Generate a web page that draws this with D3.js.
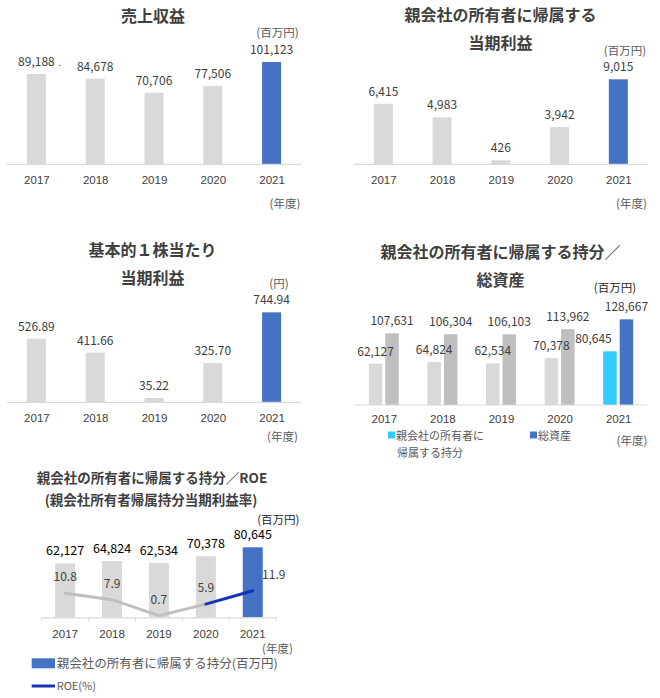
<!DOCTYPE html>
<html><head><meta charset="utf-8">
<script src="https://cdn.jsdelivr.net/npm/d3@7/dist/d3.min.js"></script>
<style>
html,body{margin:0;padding:0;background:#fff;}
svg{display:block;font-family:"Noto Sans CJK JP","Noto Sans",sans-serif;}
</style></head>
<body>
<svg id="c" width="660" height="698"></svg>
<script>
const years = ["2017","2018","2019","2020","2021"];
const revenue = [89188, 84678, 70706, 77506, 101123];
const netIncome = [6415, 4983, 426, 3942, 9015];
const eps = [526.89, 411.66, 35.22, 325.70, 744.94];
const equity = [62127, 64824, 62534, 70378, 80645];
const totalAssets = [107631, 106304, 106103, 113962, 128667];
const roe = [10.8, 7.9, 0.7, 5.9, 11.9];

const fmtInt = d3.format(",");
const fmt2 = d3.format(".2f");
const fmt1 = d3.format(".1f");

const GRAY = "#d9d9d9", GRAY2 = "#bfbfbf", BLUE = "#4472c4", CYAN = "#33ccff", LINEBLUE = "#1434b4";
const TXT = "#404040", TXT2 = "#595959";

const svg = d3.select("#c");

function text(g, x, y, s, opt = {}) {
  return g.append("text").attr("x", x).attr("y", y).text(s)
    .attr("text-anchor", opt.anchor || "middle")
    .attr("font-size", opt.size || 12)
    .attr("font-weight", opt.weight || "normal")
    .attr("fill", opt.fill || TXT);
}

function simpleBars(cfg) {
  const g = svg.append("g");
  const x = d3.scalePoint().domain(years).range(cfg.xr).padding(0.5);
  const y = d3.scaleLinear().domain(cfg.yd).range([cfg.base, cfg.base - cfg.h]);
  cfg.titles.forEach((t, i) => text(g, cfg.tx, cfg.ty[i], t, {size: 16, weight: "bold", fill: TXT}));
  g.selectAll("rect.bar").data(cfg.values).join("rect")
    .attr("x", (d, i) => x(years[i]) - 9.5).attr("width", 19)
    .attr("y", d => y(d)).attr("height", d => cfg.base - y(d))
    .attr("fill", (d, i) => i === years.length - 1 ? BLUE : GRAY);
  g.append("line").attr("x1", cfg.xr[0]).attr("x2", cfg.xr[1])
    .attr("y1", cfg.base).attr("y2", cfg.base).attr("stroke", GRAY).attr("stroke-width", 1.2);
  g.selectAll("text.val").data(cfg.values).join("text")
    .attr("x", (d, i) => x(years[i])).attr("y", d => y(d) - 8)
    .attr("text-anchor", "middle").attr("font-size", 12).attr("fill", TXT)
    .text(cfg.fmt);
  const ax = g.append("g").attr("transform", `translate(0,${cfg.base})`)
    .call(d3.axisBottom(x).tickSize(0).tickPadding(cfg.yearPad));
  ax.select(".domain").remove();
  ax.selectAll("text").attr("font-size", 11.5).attr("fill", TXT).attr("font-family", null);
  text(g, cfg.unit[0], cfg.unit[1], cfg.unit[2], {size: 11.5, fill: TXT2});
  text(g, cfg.nendo[0], cfg.nendo[1], "(年度)", {size: 11.5, fill: TXT2});
  return {g, x, y};
}

// Chart 1
const c1 = simpleBars({xr: [7, 301], base: 164.3, yd: [0, 100000], h: 101.2, values: revenue, fmt: fmtInt,
  titles: ["売上収益"], tx: 153, ty: [22], yearPad: 12, unit: [277.5, 36.5, "(百万円)"], nendo: [285, 207.5]});
text(c1.g, 59.5, 66, ".", {size: 9, fill: TXT});

// Chart 2
simpleBars({xr: [354, 647.7], base: 164.3, yd: [0, 10000], h: 94.3, values: netIncome, fmt: fmtInt,
  titles: ["親会社の所有者に帰属する", "当期利益"], tx: 500.5, ty: [21, 49], yearPad: 12,
  unit: [625, 54.5, "(百万円)"], nendo: [631.5, 207.5]});

// Chart 3
simpleBars({xr: [7, 301], base: 402.3, yd: [0, 800], h: 96.6, values: eps, fmt: fmt2,
  titles: ["基本的１株当たり", "当期利益"], tx: 152.5, ty: [256, 284], yearPad: 12,
  unit: [279, 287.5, "(円)"], nendo: [282.5, 441]});

// Chart 4: grouped
(function () {
  const g = svg.append("g");
  const base = 405;
  const x = d3.scalePoint().domain(years).range([354.5, 647.5]).padding(0.5);
  const y = d3.scaleLinear().domain([0, 140000]).range([base, base - 93.2]);
  text(g, 500.5, 258, "親会社の所有者に帰属する持分／", {size: 16, weight: "bold"});
  text(g, 500.5, 286, "総資産", {size: 16, weight: "bold"});
  const last = years.length - 1;
  g.selectAll("rect.eq").data(equity).join("rect")
    .attr("x", (d, i) => x(years[i]) - 15).attr("width", 13.5)
    .attr("y", d => y(d)).attr("height", d => base - y(d))
    .attr("fill", (d, i) => i === last ? CYAN : GRAY);
  g.selectAll("rect.ta").data(totalAssets).join("rect")
    .attr("x", (d, i) => x(years[i]) + 1.5).attr("width", 13.5)
    .attr("y", d => y(d)).attr("height", d => base - y(d))
    .attr("fill", (d, i) => i === last ? BLUE : GRAY2);
  g.append("line").attr("x1", 354).attr("x2", 647).attr("y1", base).attr("y2", base)
    .attr("stroke", GRAY).attr("stroke-width", 1.2);
  g.selectAll("text.eqv").data(equity).join("text")
    .attr("x", (d, i) => x(years[i]) - 8.25 - (i === last ? 16.5 : 0))
    .attr("y", d => y(d) - 8)
    .attr("text-anchor", "middle").attr("font-size", 12).attr("fill", TXT).text(fmtInt);
  g.selectAll("text.tav").data(totalAssets).join("text")
    .attr("x", (d, i) => x(years[i]) + 8.25)
    .attr("y", d => y(d) - 8)
    .attr("text-anchor", "middle").attr("font-size", 12).attr("fill", TXT).text(fmtInt);
  const ax = g.append("g").attr("transform", `translate(0,${base})`)
    .call(d3.axisBottom(x).tickSize(0).tickPadding(10));
  ax.select(".domain").remove();
  ax.selectAll("text").attr("font-size", 11.5).attr("fill", TXT).attr("font-family", null);
  text(g, 615, 291.5, "(百万円)", {size: 11.5, fill: "#262626"});
  text(g, 632, 445, "(年度)", {size: 11.5, fill: TXT2});
  // legend
  g.append("rect").attr("x", 388).attr("y", 431.5).attr("width", 7).attr("height", 7).attr("fill", CYAN);
  text(g, 396, 440, "親会社の所有者に", {anchor: "start", size: 11, fill: TXT2});
  text(g, 397, 456.5, "帰属する持分", {anchor: "start", size: 11, fill: TXT2});
  g.append("rect").attr("x", 530).attr("y", 431.5).attr("width", 7).attr("height", 7).attr("fill", BLUE);
  text(g, 538, 440, "総資産", {anchor: "start", size: 11, fill: TXT2});
})();

// Chart 5: bars + ROE line
(function () {
  const g = svg.append("g");
  const base = 617.3;
  const xb = d3.scaleBand().domain(years).range([41.7, 276.2]);
  const cx = d => xb(d) + xb.bandwidth() / 2;
  const y = d3.scaleLinear().domain([0, 100000]).range([base, base - 86.8]);
  const yr = d3.scaleLinear().domain([0, 40]).range([base, base - 89.2]);
  text(g, 152, 482.5, "親会社の所有者に帰属する持分／ROE", {size: 13.5, weight: "bold"});
  text(g, 151, 504.5, "(親会社所有者帰属持分当期利益率)", {size: 13.5, weight: "bold"});
  const last = years.length - 1;
  g.selectAll("rect.b").data(equity).join("rect")
    .attr("x", (d, i) => cx(years[i]) - 10).attr("width", 20)
    .attr("y", d => y(d)).attr("height", d => base - y(d))
    .attr("fill", (d, i) => i === last ? BLUE : GRAY);
  const ax = g.append("g").attr("transform", `translate(0,${base})`)
    .call(d3.axisBottom(xb).tickSize(0).tickPadding(13));
  ax.select(".domain").attr("stroke", GRAY).attr("stroke-width", 1.2);
  ax.selectAll("text").attr("font-size", 11.5).attr("fill", TXT).attr("font-family", null);
  const bounds = years.map(d => xb(d)).concat([xb.range()[1]]);
  g.selectAll("line.tk").data(bounds).join("line")
    .attr("x1", d => d).attr("x2", d => d).attr("y1", base).attr("y2", base + 4)
    .attr("stroke", GRAY).attr("stroke-width", 1);
  g.selectAll("text.v").data(equity).join("text")
    .attr("x", (d, i) => cx(years[i])).attr("y", d => y(d) - 8)
    .attr("text-anchor", "middle").attr("font-size", 12.5).attr("fill", "#000").text(fmtInt);
  const pts = roe.map((v, i) => [cx(years[i]), yr(v)]);
  const line = d3.line();
  g.append("path").attr("d", line(pts.slice(0, 4))).attr("fill", "none")
    .attr("stroke", GRAY2).attr("stroke-width", 3).attr("stroke-linecap", "round");
  g.append("path").attr("d", line(pts.slice(3))).attr("fill", "none")
    .attr("stroke", LINEBLUE).attr("stroke-width", 3).attr("stroke-linecap", "round");
  g.selectAll("text.r").data(roe).join("text")
    .attr("x", (d, i) => cx(years[i]) + (i === last ? 21 : 0))
    .attr("y", (d, i) => yr(d) - 12)
    .attr("text-anchor", "middle").attr("font-size", 12).attr("fill", TXT).text(fmt1);
  text(g, 278.3, 523.5, "(百万円)", {size: 11.5, fill: "#262626"});
  text(g, 277.5, 652.5, "(年度)", {size: 11.5, fill: TXT2});
  g.append("rect").attr("x", 31.7).attr("y", 658.3).attr("width", 23.3).attr("height", 10).attr("fill", BLUE);
  text(g, 56.7, 668, "親会社の所有者に帰属する持分(百万円)", {anchor: "start", size: 12.5, fill: TXT2});
  g.append("line").attr("x1", 31.7).attr("x2", 55).attr("y1", 686).attr("y2", 686)
    .attr("stroke", LINEBLUE).attr("stroke-width", 3);
  text(g, 56.7, 690, "ROE(%)", {anchor: "start", size: 11, fill: TXT2});
})();
</script>
</body></html>
